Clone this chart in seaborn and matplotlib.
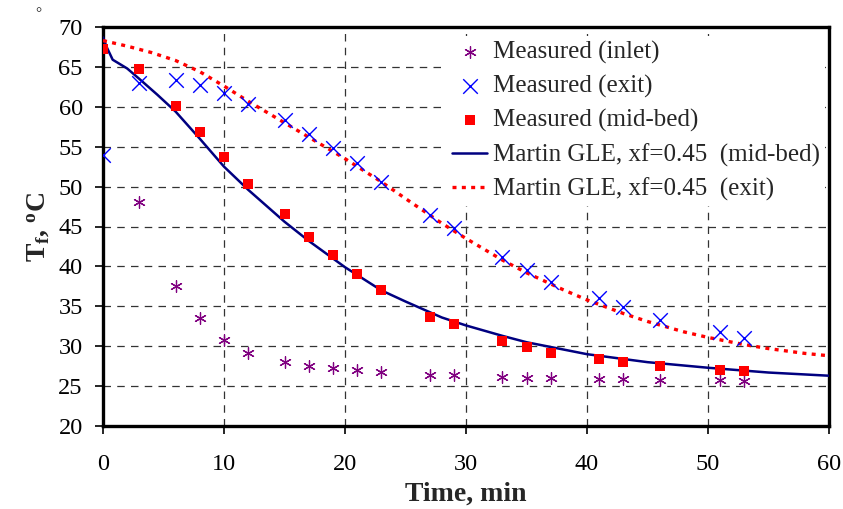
import matplotlib
matplotlib.use("Agg")
import matplotlib.pyplot as plt
import seaborn as sns
import pandas as pd

# ---- data ----
t_meas = [3, 6, 8, 10, 12, 15, 17, 19, 21, 23, 27, 29, 33, 35, 37, 41, 43, 46, 51, 53]
T_inlet = [48.1, 37.5, 33.5, 30.8, 29.2, 28.0, 27.5, 27.3, 27.0, 26.8, 26.4, 26.4,
           26.2, 26.0, 26.0, 25.9, 25.9, 25.8, 25.8, 25.6]

t_exit = [0, 3, 6, 8, 10, 12, 15, 17, 19, 21, 23, 27, 29, 33, 35, 37, 41, 43, 46, 51, 53]
T_exit = [54.0, 63.0, 63.4, 62.7, 61.7, 60.4, 58.3, 56.6, 54.8, 53.0, 50.6, 46.5, 44.8,
          41.2, 39.5, 38.0, 36.0, 34.9, 33.3, 31.8, 31.0]

t_mid = [0, 3, 6, 8, 10, 12, 15, 17, 19, 21, 23, 27, 29, 33, 35, 37, 41, 43, 46, 51, 53]
T_mid = [67.2, 64.7, 60.1, 56.8, 53.7, 50.3, 46.6, 43.7, 41.4, 39.0, 37.0, 33.7, 32.8,
         30.6, 29.9, 29.2, 28.4, 28.0, 27.5, 27.0, 26.9]

t_mod_mid = [0, 0.3, 0.8, 2, 3, 4.5, 6, 8, 10, 12, 15, 17, 20, 23, 25, 28, 30, 33, 35,
             38, 40, 45, 50, 55, 60]
T_mod_mid = [68.7, 67.5, 65.9, 64.8, 63.5, 61.5, 59.4, 56.0, 52.5, 49.6, 45.6, 43.2,
             39.9, 37.0, 35.6, 33.6, 32.6, 31.3, 30.5, 29.6, 29.0, 28.0, 27.3, 26.7, 26.3]

t_mod_exit = [0, 2, 4, 6, 8, 10, 12, 15, 18, 20, 23, 25, 28, 30, 33, 35, 38, 40, 43,
              45, 48, 50, 53, 55, 58, 60]
T_mod_exit = [68.3, 67.6, 66.8, 65.8, 64.4, 62.6, 60.7, 58.0, 55.3, 53.5, 50.6, 48.5,
              45.4, 43.5, 40.8, 39.2, 37.1, 35.8, 34.1, 33.1, 31.8, 31.1, 30.2, 29.7,
              29.1, 28.8]

x_ticks = [0, 10, 20, 30, 40, 50, 60]
y_ticks = [20, 25, 30, 35, 40, 45, 50, 55, 60, 65, 70]

# ---- style ----
sns.set_style("ticks")
plt.rcParams["font.family"] = ["Liberation Serif", "DejaVu Serif"]
plt.rcParams["mathtext.fontset"] = "custom"
plt.rcParams["mathtext.rm"] = "Liberation Serif"
plt.rcParams["mathtext.bf"] = "Liberation Serif:bold"
plt.rcParams["mathtext.it"] = "Liberation Serif:italic"

fig = plt.figure(figsize=(8.43, 5.09), dpi=100)
ax = fig.add_axes([103 / 843, 1 - 426 / 509, (829 - 103) / 843, (426 - 27) / 509])

# grid
for xv in x_ticks[1:-1]:
    ax.axvline(xv, color="#333333", lw=0.9, ls=(0, (6, 5)), zorder=0)
for yv in y_ticks[1:-1]:
    ax.axhline(yv, color="#333333", lw=0.9, ls=(0, (6, 5)), zorder=0)

df_in = pd.DataFrame({"t": t_meas, "T": T_inlet})
df_ex = pd.DataFrame({"t": t_exit, "T": T_exit})
df_mid = pd.DataFrame({"t": t_mid, "T": T_mid})
df_mm = pd.DataFrame({"t": t_mod_mid, "T": T_mod_mid})
df_me = pd.DataFrame({"t": t_mod_exit, "T": T_mod_exit})

sns.lineplot(data=df_mm, x="t", y="T", ax=ax, color="#000080", lw=1.8,
             label="Martin GLE, xf=0.45  (mid-bed)", zorder=3, sort=False)
sns.lineplot(data=df_me, x="t", y="T", ax=ax, color="#ff0000", lw=2.4,
             ls=(0, (1.2, 1.6)), label="Martin GLE, xf=0.45  (exit)", zorder=3, sort=False)
sns.scatterplot(data=df_in, x="t", y="T", ax=ax, marker=(6, 2, 0), s=70,
                color="#800080", linewidth=0.9, label="Measured (inlet)", zorder=4)
sns.scatterplot(data=df_ex, x="t", y="T", ax=ax, marker="x", s=110,
                color="#0000ff", linewidth=1.0, label="Measured (exit)", zorder=4)
sns.scatterplot(data=df_mid, x="t", y="T", ax=ax, marker="s", s=45,
                color="#ff0000", linewidth=0, label="Measured (mid-bed)", zorder=5)

ax.set_xlim(0, 60)
ax.set_ylim(20, 70)
ax.set_xticks(x_ticks)
ax.set_yticks(y_ticks)
ax.tick_params(axis="both", direction="out", length=6, width=1.2, labelsize=17.5,
               colors="black")
ax.tick_params(axis="x", pad=14)
ax.tick_params(axis="y", pad=8.5)
for sp in ax.spines.values():
    sp.set_visible(True)
    sp.set_linewidth(2.4)
    sp.set_color("black")

ax.set_xlabel("Time, min", fontsize=20, fontweight="bold", labelpad=5)
ax.set_ylabel(r"T$_\mathbf{f}$, $^\mathbf{o}$C", fontsize=20, fontweight="bold",
              labelpad=5)

handles, labels = ax.get_legend_handles_labels()
order = ["Measured (inlet)", "Measured (exit)", "Measured (mid-bed)",
         "Martin GLE, xf=0.45  (mid-bed)", "Martin GLE, xf=0.45  (exit)"]
hmap = dict(zip(labels, handles))
leg = ax.legend([hmap[k] for k in order], order, loc="upper left",
                bbox_to_anchor=((447 - 103) / 726, 1 - (36 - 27) / 399), frameon=True,
                facecolor="white", edgecolor="none", framealpha=1.0, fancybox=False,
                fontsize=18, handlelength=1.4, handletextpad=0.25, labelspacing=0.44,
                borderaxespad=0, borderpad=0.2)
leg.set_zorder(6)

fig.text(38 / 843, 1 - 14 / 509, "°", fontsize=11, ha="center", va="center")

fig.savefig("out.png", dpi=100)
